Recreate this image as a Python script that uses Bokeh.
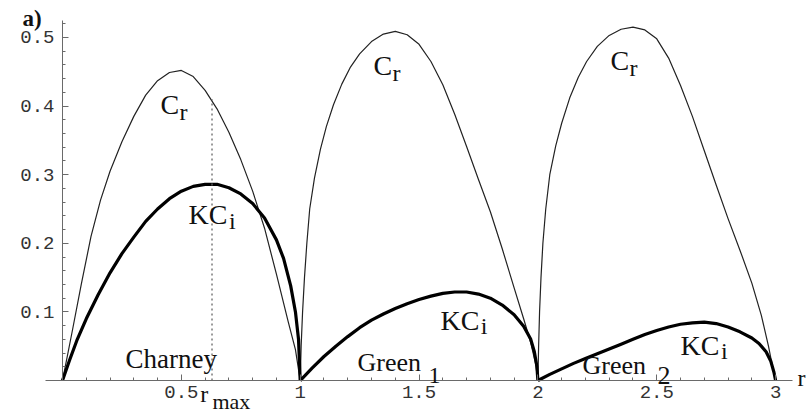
import numpy as np
from bokeh.plotting import figure
from bokeh.models import FixedTicker, Label, Range1d
from bokeh.embed import file_html
from bokeh.resources import INLINE

# ---- data (r, value) ----
cr1_r = [0.0, 0.04, 0.08, 0.12, 0.16, 0.2, 0.25, 0.3, 0.35, 0.4, 0.45, 0.5, 0.55, 0.6, 0.65, 0.7, 0.75, 0.8, 0.85, 0.9, 0.95, 0.98, 1.0]
cr1_v = [0.0, 0.07, 0.142, 0.21, 0.263, 0.305, 0.348, 0.385, 0.416, 0.437, 0.449, 0.452, 0.443, 0.423, 0.396, 0.362, 0.322, 0.276, 0.222, 0.155, 0.085, 0.045, 0.0]

kci1_r = [0.0, 0.03, 0.06, 0.1, 0.15, 0.2, 0.25, 0.3, 0.35, 0.4, 0.45, 0.5, 0.55, 0.6, 0.65, 0.7, 0.75, 0.8, 0.85, 0.9, 0.93, 0.96, 0.98, 0.993, 1.0]
kci1_v = [0.0, 0.03, 0.058, 0.09, 0.125, 0.157, 0.185, 0.209, 0.232, 0.25, 0.265, 0.276, 0.283, 0.286, 0.286, 0.281, 0.272, 0.258, 0.237, 0.205, 0.178, 0.138, 0.1, 0.06, 0.0]

cr2_r = [1.0, 1.004, 1.01, 1.018, 1.028, 1.04, 1.06, 1.085, 1.11, 1.14, 1.175, 1.21, 1.25, 1.3, 1.35, 1.4, 1.45, 1.5, 1.55, 1.6, 1.65, 1.7, 1.75, 1.8, 1.85, 1.9, 1.94, 1.97, 1.99, 2.0]
cr2_v = [0.0, 0.05, 0.1, 0.15, 0.2, 0.25, 0.295, 0.337, 0.37, 0.402, 0.432, 0.456, 0.476, 0.494, 0.505, 0.509, 0.504, 0.49, 0.465, 0.431, 0.388, 0.341, 0.293, 0.246, 0.192, 0.135, 0.09, 0.055, 0.025, 0.0]

kci2_r = [1.0, 1.05, 1.1, 1.15, 1.2, 1.25, 1.3, 1.35, 1.4, 1.45, 1.5, 1.55, 1.6, 1.65, 1.7, 1.75, 1.8, 1.85, 1.9, 1.94, 1.97, 1.985, 1.996, 2.0]
kci2_v = [0.0, 0.018, 0.035, 0.05, 0.064, 0.077, 0.088, 0.097, 0.105, 0.112, 0.118, 0.123, 0.127, 0.129, 0.129, 0.126, 0.12, 0.11, 0.096, 0.079, 0.06, 0.042, 0.02, 0.0]

cr3_r = [2.0, 2.003, 2.007, 2.013, 2.021, 2.033, 2.05, 2.075, 2.1, 2.134, 2.17, 2.205, 2.25, 2.3, 2.35, 2.4, 2.45, 2.5, 2.55, 2.6, 2.65, 2.7, 2.75, 2.8, 2.85, 2.9, 2.94, 2.97, 2.99, 3.0]
cr3_v = [0.0, 0.05, 0.1, 0.15, 0.2, 0.25, 0.3, 0.342, 0.375, 0.412, 0.442, 0.465, 0.487, 0.503, 0.512, 0.515, 0.511, 0.498, 0.47, 0.43, 0.385, 0.335, 0.285, 0.236, 0.19, 0.142, 0.095, 0.05, 0.015, 0.0]

kci3_r = [2.0, 2.05, 2.1, 2.15, 2.2, 2.25, 2.3, 2.35, 2.4, 2.45, 2.5, 2.55, 2.6, 2.65, 2.7, 2.75, 2.8, 2.85, 2.9, 2.93, 2.96, 2.98, 2.993, 3.0]
kci3_v = [0.0, 0.009, 0.017, 0.025, 0.032, 0.039, 0.046, 0.053, 0.06, 0.067, 0.073, 0.078, 0.082, 0.084, 0.085, 0.083, 0.078, 0.071, 0.062, 0.054, 0.042, 0.028, 0.012, 0.0]

r_max = 0.629
cr_at_rmax = 0.41

x_ticks = [0.5, 1, 1.5, 2, 2.5, 3]
x_tick_labels = ["0.5", "1", "1.5", "2", "2.5", "3"]
y_ticks = [0.1, 0.2, 0.3, 0.4, 0.5]
y_tick_labels = ["0.1", "0.2", "0.3", "0.4", "0.5"]

# ---- figure: the frame fills the whole canvas, axes sit at r=0 / value=0 ----
p = figure(width=809, height=417, output_backend="svg", toolbar_location=None,
           x_range=Range1d(-0.2608, 3.1426), y_range=Range1d(-0.0539, 0.5539),
           min_border=0, min_border_left=0, min_border_right=0,
           min_border_top=0, min_border_bottom=0)
p.outline_line_color = None
p.grid.visible = False
p.background_fill_color = "white"
p.border_fill_color = "white"

AX = "#6a6a6a"
for ax in (p.xaxis[0], p.yaxis[0]):
    ax.axis_line_color = AX
    ax.axis_line_width = 1
    ax.major_tick_line_color = AX
    ax.minor_tick_line_color = AX
    ax.major_tick_in = 6
    ax.major_tick_out = 0
    ax.minor_tick_in = 3
    ax.minor_tick_out = 0
    ax.major_label_text_font = "Liberation Mono"
    ax.major_label_text_font_size = "19px"
    ax.major_label_text_color = "#333333"

p.xaxis[0].ticker = FixedTicker(ticks=x_ticks,
                                minor_ticks=[float(v) for v in np.round(np.arange(0.1, 3.01, 0.1), 1)])
p.xaxis[0].major_label_overrides = {t: l for t, l in zip(x_ticks, x_tick_labels)}
p.xaxis[0].major_label_standoff = 5
p.xaxis[0].fixed_location = 0
p.xaxis[0].bounds = (-0.0715, 3.07)

p.yaxis[0].ticker = FixedTicker(ticks=y_ticks,
                                minor_ticks=[float(v) for v in np.round(np.arange(0.02, 0.53, 0.02), 2)])
p.yaxis[0].major_label_overrides = {t: l for t, l in zip(y_ticks, y_tick_labels)}
p.yaxis[0].major_label_standoff = 8
p.yaxis[0].fixed_location = 0
p.yaxis[0].bounds = (0, 0.525)

# curves
for rr, vv in ((cr1_r, cr1_v), (cr2_r, cr2_v), (cr3_r, cr3_v)):
    p.line(rr, vv, line_color="#222222", line_width=1.2, line_join="round")
for rr, vv in ((kci1_r, kci1_v), (kci2_r, kci2_v), (kci3_r, kci3_v)):
    p.line(rr, vv, line_color="black", line_width=3.2, line_join="round")

p.segment(x0=[r_max], y0=[0], x1=[r_max], y1=[cr_at_rmax],
          line_color="#666666", line_width=1.3, line_dash="2 3")

SERIF = "Liberation Serif"

def lab(x, y, t, size, bold=False, align="left"):
    p.add_layout(Label(x=x, y=y, text=t, text_font=SERIF, text_font_size=size,
                       text_color="#111111", text_align=align, text_baseline="alphabetic",
                       text_font_style="bold" if bold else "normal"))

# C_r labels
lab(0.412, 0.402, "C", "28px"); lab(0.492, 0.391, "r", "24px")
lab(1.308, 0.459, "C", "28px"); lab(1.388, 0.448, "r", "24px")
lab(2.305, 0.467, "C", "28px"); lab(2.385, 0.456, "r", "24px")
# KC_i labels
lab(0.530, 0.242, "KC", "28px"); lab(0.700, 0.233, "i", "24px")
lab(1.590, 0.0875, "KC", "28px"); lab(1.760, 0.079, "i", "24px")
lab(2.600, 0.051, "KC", "28px"); lab(2.770, 0.043, "i", "24px")
# mode names
lab(0.265, 0.031, "Charney", "27px")
lab(1.241, 0.0263, "Green", "26px"); lab(1.54, 0.0073, "1", "24px")
lab(2.188, 0.0219, "Green", "26px"); lab(2.503, 0.0073, "2", "26px")
# axis extras
lab(0.58, -0.020, "r", "24px"); lab(0.631, -0.030, "max", "22px")
lab(3.0925, 0.003, "r", "24px")
lab(-0.168, 0.528, "a)", "23px", bold=True)

open("out.html", "w").write(file_html(p, INLINE))
